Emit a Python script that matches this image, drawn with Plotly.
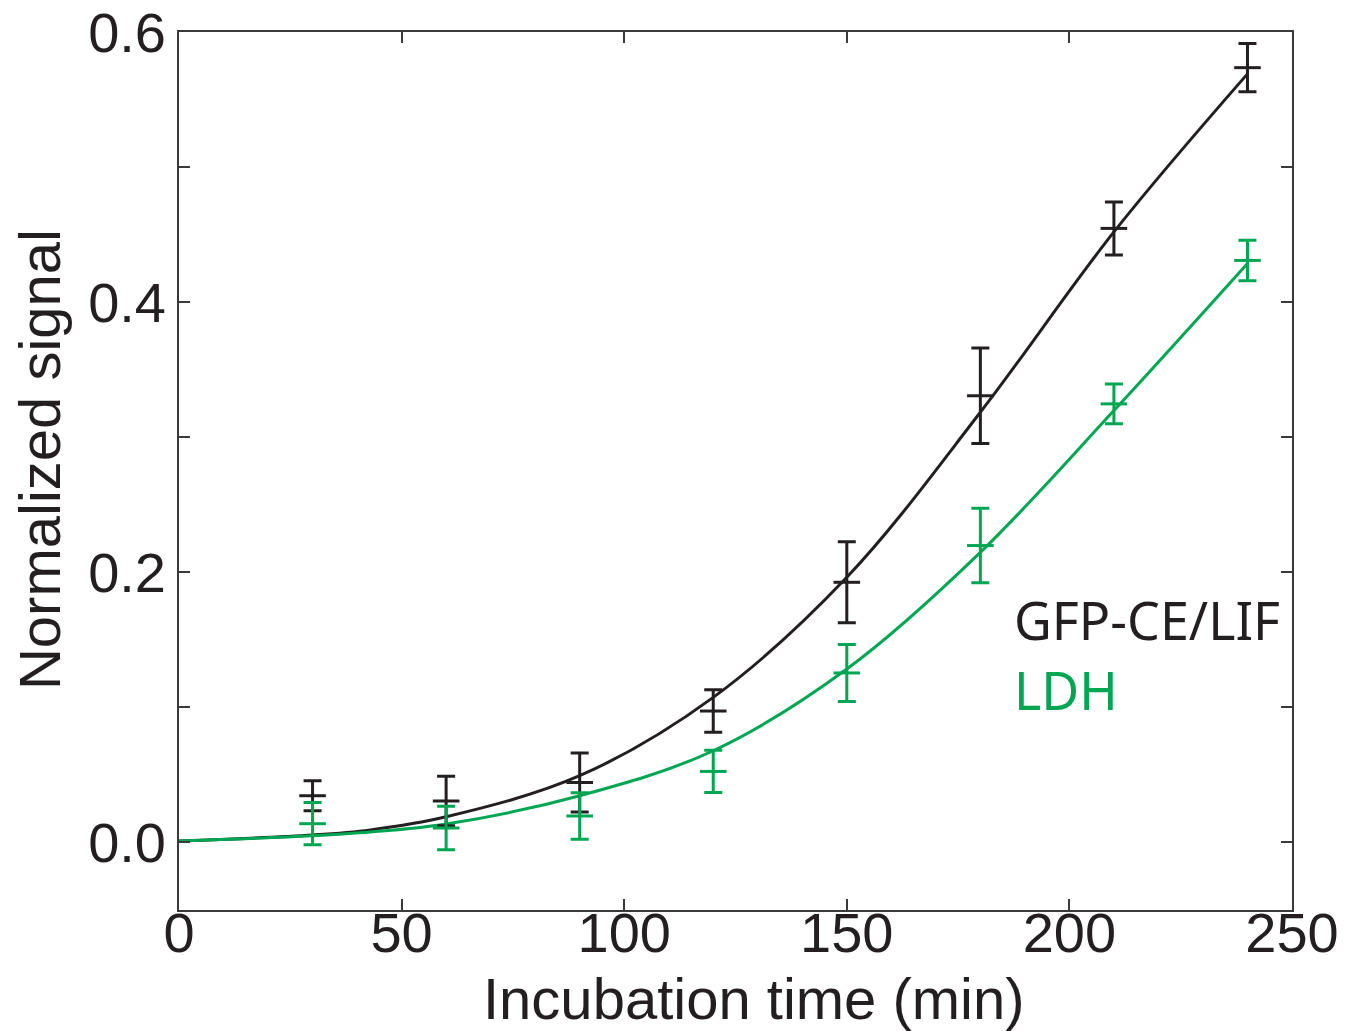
import plotly.graph_objects as go

# Measured data (mean ± error)
time_points = [30, 60, 90, 120, 150, 180, 210, 240]
gfp_mean = [0.0346, 0.0307, 0.0444, 0.0973, 0.1926, 0.3307, 0.4546, 0.5736]
gfp_err = [0.0111, 0.0183, 0.0219, 0.0157, 0.0300, 0.0353, 0.0196, 0.0179]
ldh_mean = [0.0139, 0.0107, 0.0196, 0.0526, 0.1255, 0.2198, 0.3247, 0.4309]
ldh_err = [0.0156, 0.0161, 0.0172, 0.0157, 0.0211, 0.0276, 0.0148, 0.0150]

# Fitted curves
fit_x = [0, 30, 43, 60, 90, 120, 150, 180, 210, 240]
gfp_fit = [0.001, 0.0055, 0.0093, 0.019, 0.0494, 0.1074, 0.1963, 0.3185, 0.452, 0.569]
ldh_fit = [0.001, 0.005, 0.0077, 0.0136, 0.0346, 0.0679, 0.1284, 0.2148, 0.3198, 0.4287]

y_tick_vals = [0.0, 0.1, 0.2, 0.3, 0.4, 0.5, 0.6]
y_tick_text = ["0.0", "", "0.2", "", "0.4", "", "0.6"]
x_tick_vals = [0, 50, 100, 150, 200, 250]
x_tick_text = ["0", "50", "100", "150", "200", "250"]

BLACK = "#231f20"
GREEN = "#00a651"
FONT = "Liberation Sans, Arial"

fig = go.Figure()

for fx, fy, col in [(fit_x, gfp_fit, BLACK), (fit_x, ldh_fit, GREEN)]:
    fig.add_trace(go.Scatter(x=fx, y=fy, mode="lines", line=dict(color=col, width=3, shape="spline"),
                             showlegend=False, hoverinfo="skip"))

for m, e, col in [(gfp_mean, gfp_err, BLACK), (ldh_mean, ldh_err, GREEN)]:
    fig.add_trace(go.Scatter(
        x=time_points, y=m, mode="markers",
        marker=dict(symbol="line-ew", size=19, line=dict(color=col, width=3), color=col),
        error_y=dict(type="data", array=e, visible=True, color=col, thickness=3, width=9),
        showlegend=False))

fig.add_annotation(x=187, y=0.165, xref="x", yref="y", text="GFP-CE/LIF", showarrow=False,
                   xanchor="left", yanchor="middle",
                   font=dict(family="Noto Sans", size=52, color=BLACK))
fig.add_annotation(x=187, y=0.113, xref="x", yref="y", text="LDH", showarrow=False,
                   xanchor="left", yanchor="middle",
                   font=dict(family="Noto Sans", size=52, color=GREEN))

# Axis titles
fig.add_annotation(x=0.5166, y=0, xref="paper", yref="paper", yshift=-88,
                   text="Incubation time (min)", showarrow=False,
                   xanchor="center", yanchor="middle",
                   font=dict(family=FONT, size=58, color=BLACK))
fig.add_annotation(x=0, y=0.5125, xref="paper", yref="paper", xshift=-140,
                   text="Normalized signal", showarrow=False, textangle=-90,
                   xanchor="center", yanchor="middle",
                   font=dict(family=FONT, size=58, color=BLACK))

axis_common = dict(showline=True, linecolor="#3a3a3a", linewidth=1.6, mirror="ticks",
                   ticks="inside", ticklen=11, tickwidth=1.6, tickcolor="#3a3a3a",
                   showgrid=False, zeroline=False, ticklabeloverflow="allow",
                   tickfont=dict(family=FONT, size=56, color=BLACK))

fig.update_xaxes(range=[0, 250], tickvals=x_tick_vals, ticktext=x_tick_text,
                 ticklabelstandoff=-27, **axis_common)
fig.update_yaxes(range=[-0.05, 0.6], tickvals=y_tick_vals, ticktext=y_tick_text,
                 **axis_common)

fig.update_layout(width=1355, height=1031, plot_bgcolor="white", paper_bgcolor="white",
                  margin=dict(l=171, r=71, t=24, b=129, autoexpand=False))

fig.write_html("out.html")
